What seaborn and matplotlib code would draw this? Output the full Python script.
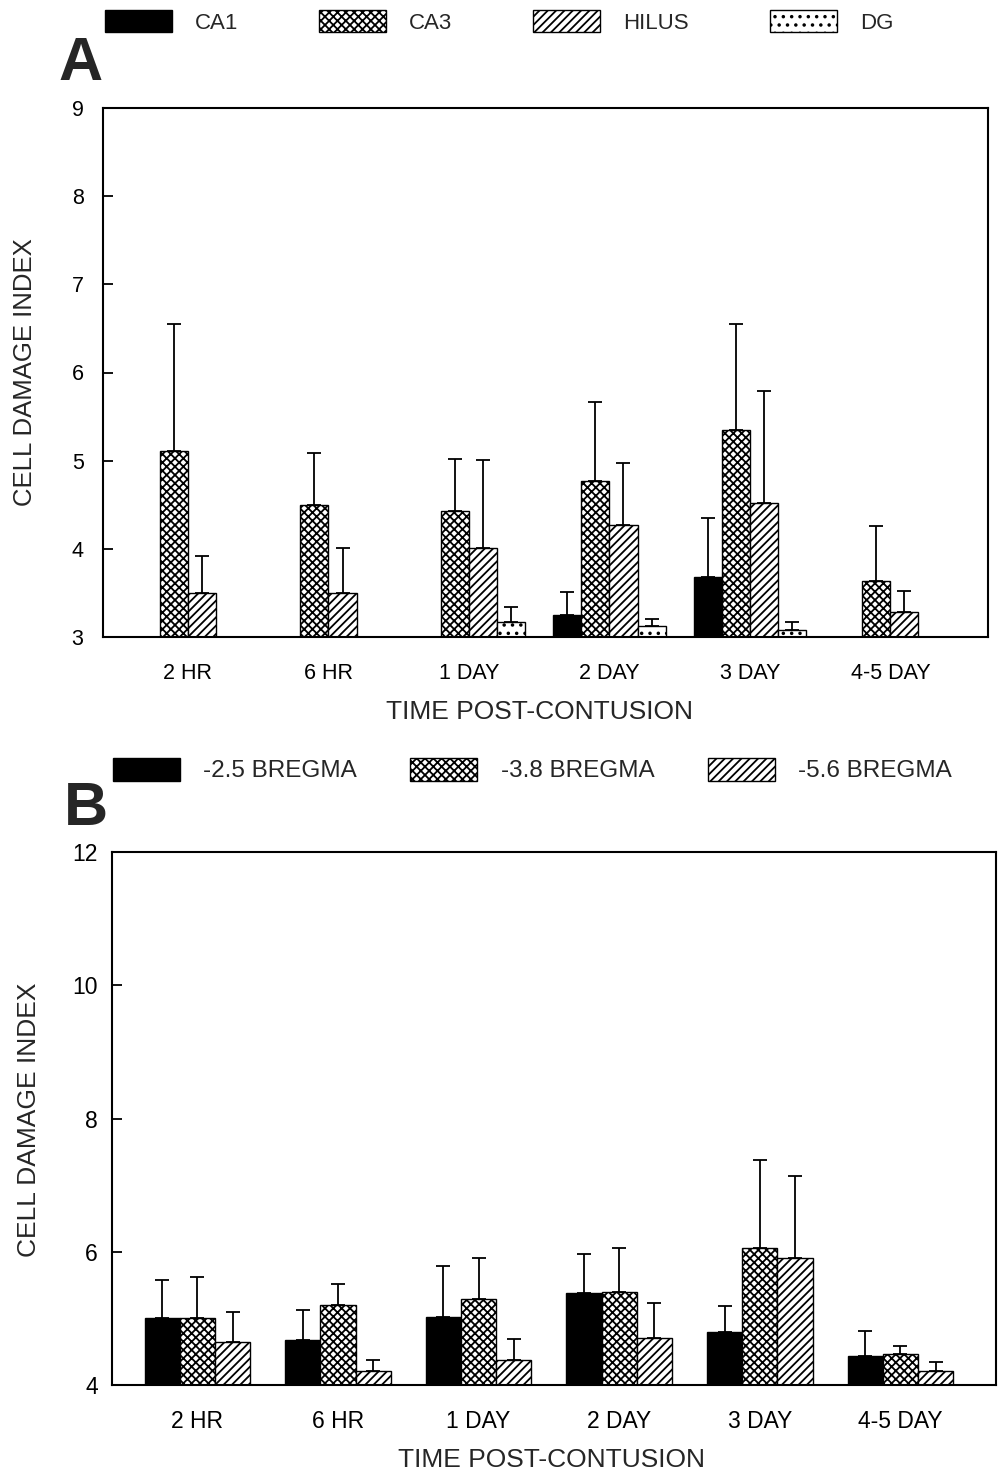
import numpy as np
import pandas as pd
import matplotlib
matplotlib.use("Agg")
import matplotlib.pyplot as plt
import matplotlib.patches as mpatches
import seaborn as sns

# ---------------- data ----------------
times = ["2 HR", "6 HR", "1 DAY", "2 DAY", "3 DAY", "4-5 DAY"]
nan = np.nan

# Panel A: hippocampal regions
regions_A = ["CA1", "CA3", "HILUS", "DG"]
ca1_mean = [nan, nan, nan, 3.25, 3.68, nan]
ca1_err = [nan, nan, nan, 0.26, 0.67, nan]
ca3_mean = [5.11, 4.50, 4.43, 4.77, 5.35, 3.63]
ca3_err = [1.44, 0.59, 0.59, 0.90, 1.20, 0.63]
hilus_mean = [3.50, 3.50, 4.01, 4.27, 4.52, 3.28]
hilus_err = [0.42, 0.51, 1.00, 0.70, 1.27, 0.24]
dg_mean = [nan, nan, 3.17, 3.12, 3.08, nan]
dg_err = [nan, nan, 0.17, 0.08, 0.09, nan]

# Panel B: bregma levels
levels_B = ["-2.5 BREGMA", "-3.8 BREGMA", "-5.6 BREGMA"]
b25_mean = [5.00, 4.67, 5.02, 5.38, 4.79, 4.43]
b25_err = [0.58, 0.45, 0.76, 0.58, 0.39, 0.38]
b38_mean = [5.01, 5.20, 5.29, 5.39, 6.05, 4.46]
b38_err = [0.61, 0.31, 0.62, 0.66, 1.32, 0.13]
b56_mean = [4.64, 4.21, 4.38, 4.71, 5.90, 4.21]
b56_err = [0.45, 0.17, 0.31, 0.52, 1.24, 0.13]


def long_df(groups, means, errs):
    rows = []
    for g, m, e in zip(groups, means, errs):
        for t, mv, ev in zip(times, m, e):
            rows.append({"time": t, "group": g, "value": mv, "err": ev})
    return pd.DataFrame(rows)


dfA = long_df(regions_A, [ca1_mean, ca3_mean, hilus_mean, dg_mean],
              [ca1_err, ca3_err, hilus_err, dg_err])
dfB = long_df(levels_B, [b25_mean, b38_mean, b56_mean],
              [b25_err, b38_err, b56_err])

# ---------------- style ----------------
sns.set_theme(style="white")
plt.rcParams["font.family"] = ["Liberation Sans", "DejaVu Sans"]
plt.rcParams["hatch.linewidth"] = 1.3
plt.rcParams["hatch.color"] = "black"

styleA = {"CA1": ("black", ""), "CA3": ("white", "xxxx"),
          "HILUS": ("white", "////"), "DG": ("white", "..")}
styleB = {"-2.5 BREGMA": ("black", ""), "-3.8 BREGMA": ("white", "xxxx"),
          "-5.6 BREGMA": ("white", "////")}

fig = plt.figure(figsize=(9.98, 14.74), dpi=100)
axA = fig.add_axes([103 / 998, 1 - 637 / 1474, 885 / 998, 529 / 1474])
axB = fig.add_axes([112 / 998, 1 - 1385 / 1474, 884 / 998, 533 / 1474])


def draw(ax, df, order_groups, style, width, ylim, yticks, xlim,
         tick_fs, xpad, ypad):
    data = df.dropna(subset=["value"])
    pal = {g: style[g][0] for g in order_groups}
    sns.barplot(data=data, x="time", y="value", hue="group", order=times,
                hue_order=order_groups, palette=pal, saturation=1,
                width=width, errorbar=None, edgecolor="black", linewidth=1.0,
                legend=False, ax=ax)
    err_lookup = {(r.time, r.group): r.err for r in df.itertuples()}
    for cont, g in zip(ax.containers, order_groups):
        for rect in cont.patches:
            rect.set_hatch(style[g][1])
            rect.set_edgecolor("black")
            h = rect.get_height()
            if not np.isfinite(h):
                continue
            xc = rect.get_x() + rect.get_width() / 2
            t = times[int(round(xc))]
            e = err_lookup.get((t, g), nan)
            if np.isfinite(e):
                ax.errorbar([xc], [h], yerr=[[0], [e]], fmt="none",
                            ecolor="black", elinewidth=1.3, capsize=4.7,
                            capthick=1.3, zorder=3)
    ax.set_ylim(*ylim)
    ax.set_yticks(yticks)
    ax.set_xlim(*xlim)
    ax.set_xlabel("")
    ax.set_ylabel("")
    for s in ax.spines.values():
        s.set_visible(True)
        s.set_color("black")
        s.set_linewidth(1.5)
    ax.tick_params(axis="y", direction="in", length=7, width=1.3,
                   labelsize=tick_fs, pad=ypad, left=True, colors="black")
    ax.tick_params(axis="x", length=0, labelsize=tick_fs, pad=xpad,
                   colors="black")
    ax.set_facecolor("white")


draw(axA, dfA, regions_A, styleA, 0.8, (3, 9), [3, 4, 5, 6, 7, 8, 9],
     (-0.605, 5.695), 15.5, 19, 14)
draw(axB, dfB, levels_B, styleB, 0.75, (4, 12), [4, 6, 8, 10, 12],
     (-0.607, 5.68), 16.5, 18, 10)

# ---------------- legends ----------------
handlesA = [mpatches.Patch(facecolor=styleA[g][0], edgecolor="black",
                           hatch=styleA[g][1], linewidth=1.0, label=g)
            for g in regions_A]
axA.legend(handles=handlesA, loc="center left", ncol=4, frameon=False,
           fontsize=16, handlelength=3.0, handleheight=1.13,
           handletextpad=1.04, columnspacing=3.65, borderpad=0,
           borderaxespad=0, bbox_to_anchor=(105 / 998, 1 - 22 / 1474),
           bbox_transform=fig.transFigure)

handlesB = [mpatches.Patch(facecolor=styleB[g][0], edgecolor="black",
                           hatch=styleB[g][1], linewidth=1.0, label=g)
            for g in levels_B]
axB.legend(handles=handlesB, loc="center left", ncol=3, frameon=False,
           fontsize=17.5, handlelength=2.76, handleheight=1.07,
           handletextpad=0.95, columnspacing=2.2, borderpad=0,
           borderaxespad=0, bbox_to_anchor=(113 / 998, 1 - 770 / 1474),
           bbox_transform=fig.transFigure)

# ---------------- text ----------------
fig.text(58 / 998, 1 - 80 / 1474, "A", fontsize=44, fontweight="bold",
         ha="left", va="baseline")
fig.text(64 / 998, 1 - 825 / 1474, "B", fontsize=44, fontweight="bold",
         ha="left", va="baseline")

fig.text(25 / 998, 1 - 372 / 1474, "CELL DAMAGE INDEX", rotation=90,
         ha="center", va="center", fontsize=18.5)
fig.text(29 / 998, 1 - 1120 / 1474, "CELL DAMAGE INDEX", rotation=90,
         ha="center", va="center", fontsize=19)
fig.text(540 / 998, 1 - 712 / 1474, "TIME POST-CONTUSION",
         ha="center", va="center", fontsize=19)
fig.text(552 / 998, 1 - 1460 / 1474, "TIME POST-CONTUSION",
         ha="center", va="center", fontsize=19)

fig.savefig("out.png", dpi=100, facecolor="white")
